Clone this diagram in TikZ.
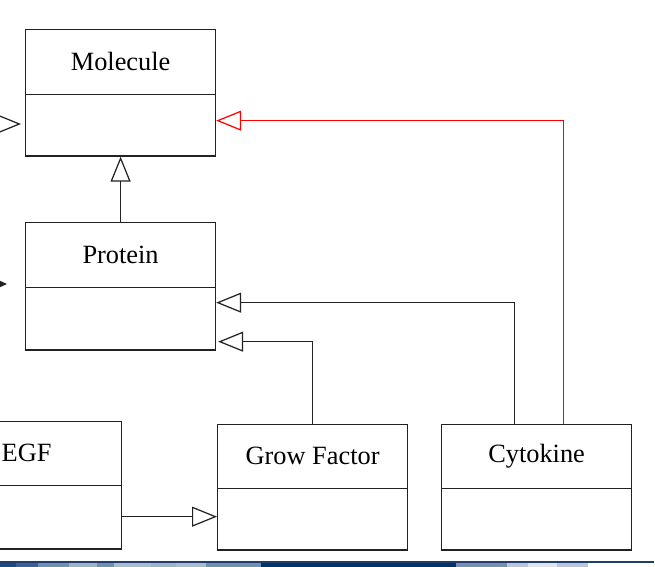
\documentclass[tikz,border=0pt]{standalone}
\usepackage{fontspec}
\setmainfont{Liberation Serif}
\usepackage{xcolor}
\definecolor{linecolor}{HTML}{222222}
\definecolor{umlred}{HTML}{FF0000}
\definecolor{bandnavy}{HTML}{003366}
\definecolor{bandline}{HTML}{1F3F6A}
\definecolor{banda}{HTML}{1D4A7A}
\definecolor{bandb}{HTML}{3B6290}
\definecolor{bandc}{HTML}{7090B0}
\definecolor{bandd}{HTML}{9EB3C8}
\definecolor{bande}{HTML}{A8BCCD}
\definecolor{bandf}{HTML}{7890B0}
\definecolor{bandg}{HTML}{B9C8D8}
\definecolor{bandh}{HTML}{DCE4EC}
\usetikzlibrary{positioning,arrows.meta,shapes.multipart,calc}
\tikzset{
    classbox/.style={
        rectangle split,
        rectangle split parts=2,
        draw=linecolor,
        line width=0.7pt,
        minimum width=3.8cm,
        inner ysep=0pt,
        anchor=north west,
        font=\fontsize{15}{18}\selectfont,
    },
    inherit/.style={
        -{Triangle[open,length=0.5cm,width=0.4cm]},
        line width=0.7pt,
        draw=linecolor,
    },
    assoc/.style={
        -{Triangle[length=0.16cm,width=0.14cm]},
        line width=0.7pt,
        draw=linecolor,
        fill=linecolor,
    },
}

\begin{document}
\begin{tikzpicture}[x=0.02cm, y=-0.02cm]
    \useasboundingbox (0,0) rectangle (655,567);
    \clip (0,0) rectangle (655,567);

    % Classes
    \node[classbox] (mol) at (25,29) {\rule[-0.48cm]{0pt}{1.28cm}Molecule\nodepart{second}\rule{0pt}{1.2cm}};
    \node[classbox] (prot) at (25,222) {\rule[-0.48cm]{0pt}{1.28cm}Protein\nodepart{second}\rule{0pt}{1.22cm}};
    \node[classbox] (egf) at (-69,421) {\rule[-0.48cm]{0pt}{1.26cm}EGF\nodepart{second}\rule{0pt}{1.24cm}};
    \node[classbox] (grow) at (217,424) {\rule[-0.48cm]{0pt}{1.26cm}Grow Factor\nodepart{second}\rule{0pt}{1.2cm}};
    \node[classbox] (cyto) at (441,424) {\rule[-0.52cm]{0pt}{1.26cm}Cytokine\nodepart{second}\rule{0pt}{1.2cm}};

    % Generalizations
    \draw[inherit] (prot.north) -- (mol.south);
    \draw[inherit] (grow.north) |- ($(prot.south east)+(2,-9)$);
    \draw[inherit] ($(cyto.north)+(-22,0)$) |- ($(prot.south east)+(0,-48)$);
    \draw[inherit, draw=umlred] ($(cyto.north)+(27,0)$) |- ($(mol.south east)+(0,-36)$);
    \coordinate (egfout) at ($(egf.south east)+(0,-33)$);
    \draw[inherit] (egfout) -- (egfout -| grow.west);

    % Links coming in from the left
    \coordinate (offmol) at (-40,124);
    \draw[inherit] (offmol) -- ($(mol.west |- offmol)+(-4,0)$);
    \coordinate (offprot) at (-40,284);
    \draw[assoc] (offprot) -- ($(prot.west |- offprot)+(-18,0)$);

    % Bottom band
    \foreach \xa/\xb/\col in {0/16/banda, 16/38/bandb, 38/69/bandc, 69/97/bandd,
        97/114/bandc, 114/151/bande, 151/176/bandd, 176/206/bande, 206/261/bandc,
        261/456/bandnavy, 456/507/bandf, 507/528/bandg, 528/557/bandh, 557/588/bandg} {
        \fill[\col] (\xa,563) rectangle (\xb,567);
    }
    \draw[bandline, line width=1.1pt] (0,562) -- (654,562);
\end{tikzpicture}
\end{document}
